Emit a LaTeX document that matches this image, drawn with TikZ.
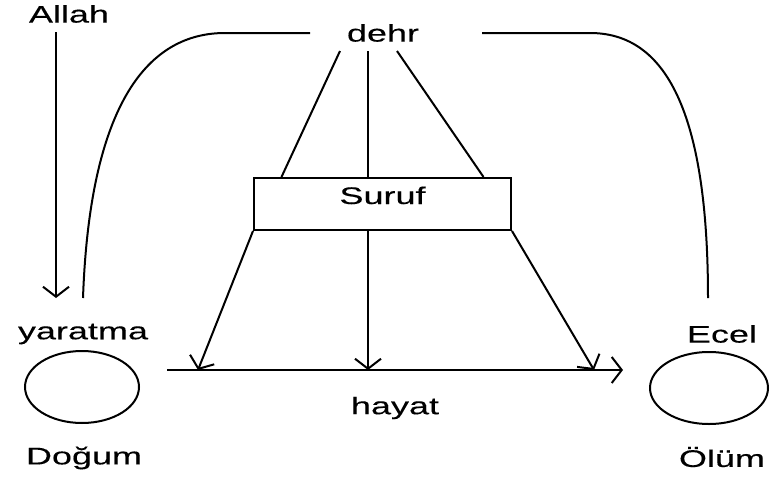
\documentclass[tikz,border=0pt]{standalone}
\usepackage{fontspec}
\setmainfont[FakeStretch=1.5,FakeBold=0.25]{Liberation Sans}
\usetikzlibrary{arrows.meta,calc,shapes}

\begin{document}
\begin{tikzpicture}[x=1pt,y=-1pt,line width=2pt,
  lbl/.style={font=\fontsize{24}{28}\selectfont,inner sep=0pt},
  arr/.style={-{Straight Barb[length=10pt,width=26pt,line width=2pt]}}]
\useasboundingbox (0,0) rectangle (772,477);
\node[lbl] (allah) at (69,14) {Allah};
\node[lbl] (dehr) at (383,33) {dehr};
\node[lbl,draw,minimum width=257pt,minimum height=52pt,text height=17pt,text depth=17pt] (suruf) at (382.5,204) {Suruf};
\node[lbl] (yaratma) at (83,334) {yaratma};
\node[draw,ellipse,minimum width=114pt,minimum height=72pt] (dogumc) at (82,387) {};
\node[lbl] (dogum) at (84,458) {Doğum};
\node[lbl] (ecel) at (722,334) {Ecel};
\node[draw,ellipse,minimum width=118pt,minimum height=72pt] (olumc) at (709,388) {};
\node[lbl] (olum) at (722,457) {Ölüm};
\node[lbl] (hayat) at (395,408) {hayat};
% end points
\coordinate (a0) at (56,32);
\coordinate (a1) at (56,298);
\coordinate (l0) at (310,33);
\coordinate (l1) at (83,298);
\coordinate (r0) at (482,33);
\coordinate (r1) at (708,298);
\coordinate (d1) at (340,51);
\coordinate (d2) at (368,51);
\coordinate (d3) at (397,51);
\coordinate (h0) at (167,370);
\coordinate (h1) at (623,370);
\draw[arr] (a0) -- (a1);
\draw (l0) -- (225,33) .. controls (150,33) and (90,100) .. (l1);
\draw (r0) -- (590,33) .. controls (660,33) and (708,100) .. (r1);
\draw (d1) -- ($(suruf.north west)!0.11!(suruf.north east)$);
\draw (d2) -- (d2 |- suruf.north);
\draw (d3) -- ($(suruf.north west)!0.89!(suruf.north east)$);
\draw[arr] (suruf.south west) -- (198,370);
\draw[arr] (d2 |- suruf.south) -- (d2 |- h0);
\draw[arr] (suruf.south east) -- (594,370);
\draw[arr] (h0) -- (h1);
\end{tikzpicture}
\end{document}
